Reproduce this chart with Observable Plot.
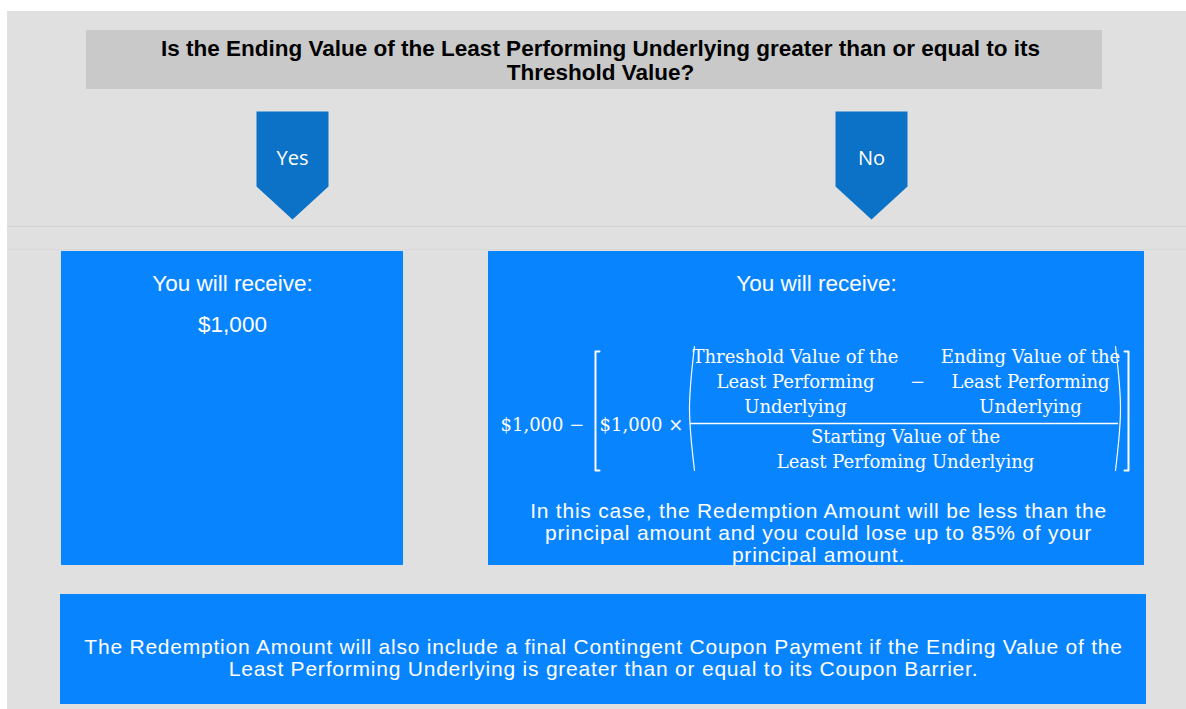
<!DOCTYPE html>
<html><head><meta charset="utf-8">
<script src="https://cdn.jsdelivr.net/npm/d3@7"></script>
<script src="https://cdn.jsdelivr.net/npm/@observablehq/plot@0.6"></script>
<style>body{margin:0;background:#fff}svg{display:block}g[font-size="21"]{letter-spacing:0.78px}</style>
</head><body><div id="chart"></div>
<script>
// ---- content ----
const questionLines = ["Is the Ending Value of the Least Performing Underlying greater than or equal to its", "Threshold Value?"];
const branchLabels = ["Yes", "No"];
const receiveLabel = "You will receive:";
const yesAmount = "$1,000";
const principalText = "$1,000";
const numeratorLeft = ["Threshold Value of the", "Least Performing", "Underlying"];
const numeratorRight = ["Ending Value of the", "Least Performing", "Underlying"];
const denominatorLines = ["Starting Value of the", "Least Perfoming Underlying"];
const noNoteLines = ["In this case, the Redemption Amount will be less than the", "principal amount and you could lose up to 85% of your", "principal amount."];
const footnoteLines = ["The Redemption Amount will also include a final Contingent Coupon Payment if the Ending Value of the", "Least Performing Underlying is greater than or equal to its Coupon Barrier."];

// ---- layout (diagram geometry) ----
const W = 1186, H = 709;
const panel = {x1: 7, x2: 1186, y1: 11, y2: 709};
const questionBox = {x1: 86, x2: 1102, y1: 30, y2: 89};
const arrowCenters = [292, 871];
const arrow = {half: 36, top: 111, shoulder: 186, tip: 219};
const boxes = [
  {id: "yes", x1: 61, x2: 403, y1: 251, y2: 565},
  {id: "no", x1: 488, x2: 1144, y1: 251, y2: 565},
  {id: "foot", x1: 60, x2: 1146, y1: 594, y2: 704}
];
const f = {y: 425, lead: 25, numTop: 357, denTop: 437, barY: 423, barX1: 690, barX2: 1118,
  leftCol: 795, rightCol: 1030, minusX: 917, denCol: 905, size: 18};

const blueBox = "#0884ff", blueArrow = "#0c72c8";
const sans = "Liberation Sans, Arial, sans-serif";
const serif = "DejaVu Serif, serif";

const arrowPts = branchLabels.flatMap((b, i) => {
  const c = arrowCenters[i];
  return [[c - arrow.half, arrow.top], [c + arrow.half, arrow.top], [c + arrow.half, arrow.shoulder], [c, arrow.tip], [c - arrow.half, arrow.shoulder]]
    .map(([x, y]) => ({b, x, y}));
});

const lines = (arr, x, y0, lead) => arr.map((t, i) => ({t, x, y: y0 + i * lead}));

const bracket = (x, y1, y2, dir) => [{x: x + dir * 4, y: y1}, {x, y: y1}, {x, y: y2}, {x: x + dir * 4, y: y2}];
const paren = (x, y1, y2, dir) => [{x: x + dir * 5, y: y1}, {x, y: (y1 + y2) / 2}, {x: x + dir * 5, y: y2}];

const txt = (data, opts) => Plot.text(data, {x: "x", y: "y", text: "t", fill: "white", textAnchor: "middle", lineAnchor: "middle", ...opts});

const chart = Plot.plot({
  width: W, height: H, margin: 0,
  x: {domain: [0, W], range: [0, W], axis: null},
  y: {domain: [0, H], range: [0, H], axis: null},
  style: {background: "white"},
  marks: [
    Plot.rect([panel], {x1: "x1", x2: "x2", y1: "y1", y2: "y2", fill: "#e0e0e0"}),
    Plot.ruleY([226], {x1: panel.x1, x2: panel.x2, stroke: "#d3d3d3", strokeWidth: 1.2}),
    Plot.ruleY([249], {x1: panel.x1, x2: panel.x2, stroke: "#d8d8d8", strokeWidth: 1}),
    Plot.rect([questionBox], {x1: "x1", x2: "x2", y1: "y1", y2: "y2", fill: "#c9c9c9"}),
    txt(lines(questionLines, 600, 48, 24), {fill: "black", fontWeight: "bold", fontSize: 22.5, fontFamily: sans}),
    Plot.line(arrowPts, {x: "x", y: "y", z: "b", fill: blueArrow, stroke: "none"}),
    txt(branchLabels.map((t, i) => ({t, x: arrowCenters[i], y: 158})), {fontSize: 20, fontFamily: "Open Sans, sans-serif"}),
    Plot.rect(boxes, {x1: "x1", x2: "x2", y1: "y1", y2: "y2", fill: blueBox}),
    txt([{t: receiveLabel, x: 232, y: 283}, {t: receiveLabel, x: 816, y: 283}, {t: yesAmount, x: 232, y: 324}], {fontSize: 22.5, fontFamily: sans}),
    // formula
    txt([{t: principalText + " \u2212", x: 500, y: f.y}], {textAnchor: "start", fontSize: f.size, fontFamily: serif}),
    txt([{t: principalText + " \u00d7", x: 599, y: f.y}], {textAnchor: "start", fontSize: f.size, fontFamily: serif}),
    txt(lines(numeratorLeft, f.leftCol, f.numTop, f.lead), {fontSize: f.size, fontFamily: serif}),
    txt(lines(numeratorRight, f.rightCol, f.numTop, f.lead), {fontSize: f.size, fontFamily: serif}),
    txt([{t: "\u2212", x: f.minusX, y: f.numTop + f.lead}], {fontSize: f.size, fontFamily: serif}),
    txt(lines(denominatorLines, f.denCol, f.denTop, f.lead), {fontSize: f.size, fontFamily: serif}),
    Plot.ruleY([f.barY], {x1: f.barX1, x2: f.barX2, stroke: "white", strokeWidth: 1.3}),
    Plot.line(bracket(595, 351, 470, 1), {x: "x", y: "y", stroke: "white", strokeWidth: 2}),
    Plot.line(bracket(1128, 351, 470, -1), {x: "x", y: "y", stroke: "white", strokeWidth: 2}),
    Plot.line(paren(689, 346, 470, 1), {x: "x", y: "y", stroke: "white", strokeWidth: 1.2, curve: "catmull-rom"}),
    Plot.line(paren(1120, 346, 470, -1), {x: "x", y: "y", stroke: "white", strokeWidth: 1.2, curve: "catmull-rom"}),
    txt(lines(noNoteLines, 818, 511, 22), {fontSize: 21, fontFamily: sans}),
    txt(lines(footnoteLines, 603, 647, 22), {fontSize: 21, fontFamily: sans})
  ]
});
document.getElementById("chart").append(chart);
</script></body></html>
